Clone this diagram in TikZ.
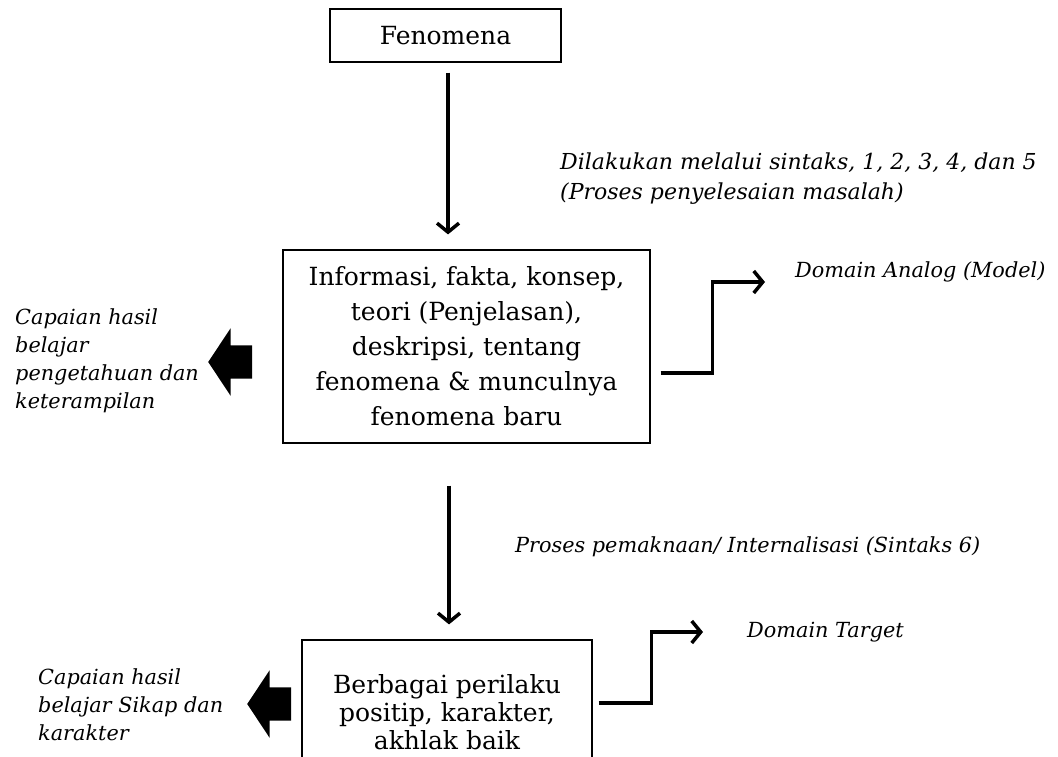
\documentclass[tikz,border=0pt]{standalone}
\usepackage{fontspec}
\setmainfont{DejaVu Serif}
\usetikzlibrary{arrows.meta,positioning,shapes.arrows}

\begin{document}
\begin{tikzpicture}[x=1pt,y=-1pt,
  box/.style={rectangle,draw=black,line width=1.2pt,inner sep=0pt,align=center,font=\fontsize{25}{35}\selectfont},
  lbl/.style={inner sep=0pt,align=left,font=\fontsize{20.8}{28}\selectfont\itshape},
  flow/.style={line width=3.5pt,-{Straight Barb[length=9pt,width=22pt,line width=3.5pt]}},
  fat/.style={single arrow,fill=black,shape border rotate=180,inner xsep=0pt,inner ysep=16.5pt,minimum height=44pt,
    single arrow tip angle=113,single arrow head extend=17pt}]
\useasboundingbox (0,0) rectangle (1058,756);
% \draw[help lines] (0,0) grid (1058,756);
\node (fen) [box,minimum width=231pt,minimum height=53pt] at (445.5,35.5) {Fenomena};
\node (mid) [box,minimum width=367pt,minimum height=193pt] at (466.5,346.5)
  {Informasi, fakta, konsep,\\ teori (Penjelasan),\\ deskripsi, tentang\\ fenomena \& munculnya\\ fenomena baru};
\node (bot) [box,minimum width=290pt,minimum height=144pt,font=\fontsize{25}{28}\selectfont] at (447,712)
  {Berbagai perilaku\\ positip, karakter,\\ akhlak baik};
%
\node (sintaks) [lbl,anchor=base west,font=\fontsize{22}{30}\selectfont\itshape] at (560,199)
  {Dilakukan melalui sintaks, 1, 2, 3, 4, dan 5\\ (Proses penyelesaian masalah)};
\node (makna) [lbl,anchor=base west] at (515,552) {Proses pemaknaan/ Internalisasi (Sintaks 6)};
\node (analog) [lbl,anchor=base west] at (795,277) {Domain Analog (Model)};
\node (target) [lbl,anchor=base west] at (747,637) {Domain Target};
\node (hasil1) [lbl,anchor=base west] at (15,408)
  {Capaian hasil\\ belajar\\ pengetahuan dan\\ keterampilan};
\node (hasil2) [lbl,anchor=base west] at (38,740)
  {Capaian hasil\\ belajar Sikap dan\\ karakter};
%
\node (fat1) [fat,anchor=tip] at (208,362) {};
\node (fat2) [fat,anchor=tip] at (247,704) {};
%
\coordinate (dom1) at (765,282);
\coordinate (dom2) at (703,632);
\draw[flow] ([xshift=2.5pt,yshift=-10pt]fen.south) -- ([xshift=2.5pt,yshift=15pt]fen.south |- mid.north);
\draw[flow] ([xshift=2pt,yshift=-42pt]bot.north |- mid.south) -- ([xshift=2pt,yshift=15pt]bot.north);
\draw[flow] ([xshift=10pt,yshift=-26.5pt]mid.east) -- ++(52,0) |- (dom1);
\draw[flow] ([xshift=6pt,yshift=9pt]bot.east) -- ++(53,0) |- (dom2);
\end{tikzpicture}
\end{document}
